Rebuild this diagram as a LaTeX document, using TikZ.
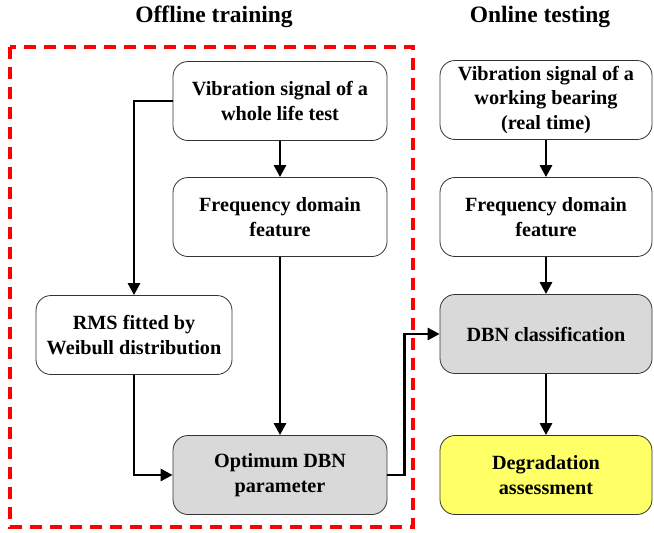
\documentclass[tikz,border=0pt]{standalone}
\usepackage{fontspec}
\setmainfont{Liberation Serif}
\usepackage{xcolor}
\usetikzlibrary{arrows.meta}
\definecolor{boxgray}{HTML}{D9D9D9}
\definecolor{boxyellow}{HTML}{FFFF66}
\definecolor{frameRed}{HTML}{FF0000}

\begin{document}
\begin{tikzpicture}[x=1pt, y=-1pt,
    font=\fontsize{20.2}{24.5}\selectfont\bfseries,
    stage/.style={draw=black!80, line width=0.8pt, rounded corners=15pt,
                  align=center, inner sep=2pt, fill=white,
                  minimum width=214pt, minimum height=79pt},
    dbn/.style={stage, fill=boxgray},
    flow/.style={-{Triangle[length=12pt,width=12pt]}, line width=2.8pt}]
  \useasboundingbox (0,0) rectangle (654,533);

  % headings
  \node (offT) at (214,17) {\fontsize{23.5}{26}\selectfont Offline training};
  \node (onT) at (540,17) {\fontsize{23.5}{26}\selectfont Online testing};

  % offline part
  \draw[frameRed, line width=3.5pt, dash pattern=on 12pt off 8pt]
        (10,47) rectangle (413,527);
  \node[stage] (sigA) at (280,101) {Vibration signal of a\\whole life test};
  \node[stage] (frqA) at (280,217) {Frequency domain\\feature};
  \node[stage, minimum width=196pt] (rms) at (134,335)
        {RMS fitted by\\Weibull distribution};
  \node[dbn] (opt) at (280,475) {Optimum DBN\\parameter};

  % online part
  \node[stage, minimum width=212pt] (sigB) at (546,100)
        {Vibration signal of a\\working bearing\\(real time)};
  \node[stage, minimum width=212pt] (frqB) at (546,217) {Frequency domain\\feature};
  \node[dbn, minimum width=212pt] (cls) at (546,334) {DBN classification};
  \node[stage, minimum width=212pt, fill=boxyellow] (deg) at (546,475)
        {Degradation\\assessment};

  \draw[flow] (sigA.west) -| (rms.north);
  \draw[flow] (sigA) -- (frqA);
  \draw[flow] (frqA) -- (opt);
  \draw[flow] (rms.south) |- (opt.west);
  \draw[flow] (opt.east) -- ++(17,0) |- (cls.west);

  \draw[flow] (sigB) -- (frqB);
  \draw[flow] (frqB) -- (cls);
  \draw[flow] (cls) -- (deg);
\end{tikzpicture}
\end{document}
